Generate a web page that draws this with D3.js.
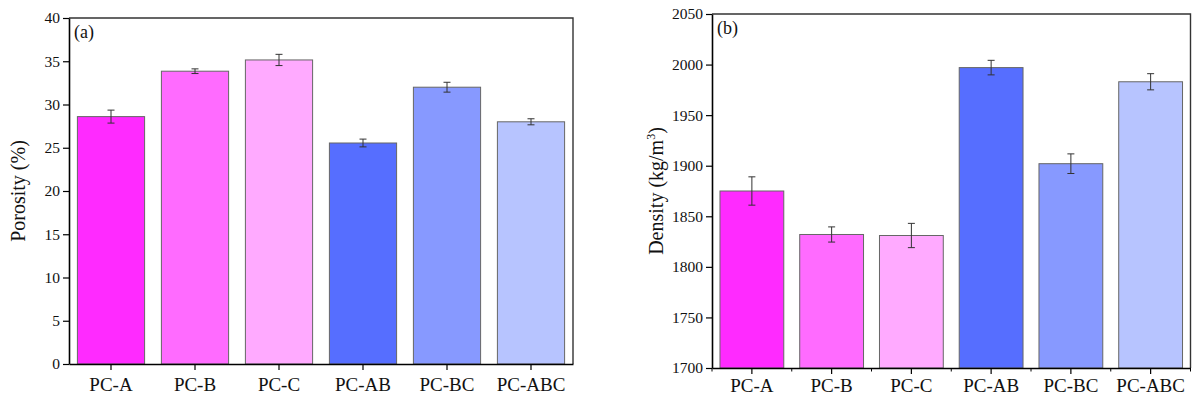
<!DOCTYPE html>
<html>
<head>
<meta charset="utf-8">
<script src="https://cdn.jsdelivr.net/npm/d3@7"></script>
<style>
  body { margin: 0; background: #fff; }
  svg { display: block; }
  svg text { font-family: "Liberation Serif", "Times New Roman", serif !important; }
</style>
</head>
<body>
<svg id="chart" width="1192" height="398"></svg>
<script>
// categories and colours
const categories = ["PC-A", "PC-B", "PC-C", "PC-AB", "PC-BC", "PC-ABC"];
const barColors = ["#FF2AFF", "#FF6BFF", "#FFAAFF", "#566EFF", "#8799FF", "#B7C4FF"];

// (a) porosity
const porosity = [28.6, 33.85, 35.15, 25.55, 32.0, 28.0];
const porosityErr = [0.75, 0.27, 0.65, 0.45, 0.57, 0.35];
const porosityTicks = [0, 5, 10, 15, 20, 25, 30, 35, 40];

// (b) density
const density = [1875, 1832, 1831, 1997, 1902, 1983];
const densityErr = [14, 7.5, 12, 7.2, 9.7, 8];
const densityTicks = [1700, 1750, 1800, 1850, 1900, 1950, 2000, 2050];

let svg = d3.select("#chart");

//Draws one bar panel with error bars
function drawPanel(opt) {
    let g = svg.append("g");
    let x = d3.scaleBand()
        .domain(categories)
        .range([opt.left, opt.right])
        .paddingInner(0.2)
        .paddingOuter(0.1);
    let y = d3.scaleLinear()
        .domain(opt.domain)
        .range([opt.bottom, opt.top]);

    let rows = categories.map((c, i) => ({ c: c, v: opt.values[i], e: opt.errors[i], col: barColors[i] }));

    //bars
    g.selectAll("rect.bar")
        .data(rows)
        .join("rect")
        .attr("class", "bar")
        .attr("x", d => x(d.c))
        .attr("width", x.bandwidth())
        .attr("y", d => y(d.v))
        .attr("height", d => y(opt.domain[0]) - y(d.v))
        .attr("fill", d => d.col)
        .attr("stroke", "#666")
        .attr("stroke-width", 1);

    //error bars
    let cap = 3.5;
    let eb = g.selectAll("g.err")
        .data(rows)
        .join("g")
        .attr("class", "err")
        .attr("stroke", "#333")
        .attr("stroke-width", 1);
    eb.append("line")
        .attr("x1", d => x(d.c) + x.bandwidth() / 2)
        .attr("x2", d => x(d.c) + x.bandwidth() / 2)
        .attr("y1", d => y(d.v + d.e))
        .attr("y2", d => y(d.v - d.e));
    eb.append("line")
        .attr("x1", d => x(d.c) + x.bandwidth() / 2 - cap)
        .attr("x2", d => x(d.c) + x.bandwidth() / 2 + cap)
        .attr("y1", d => y(d.v + d.e))
        .attr("y2", d => y(d.v + d.e));
    eb.append("line")
        .attr("x1", d => x(d.c) + x.bandwidth() / 2 - cap)
        .attr("x2", d => x(d.c) + x.bandwidth() / 2 + cap)
        .attr("y1", d => y(d.v - d.e))
        .attr("y2", d => y(d.v - d.e));

    //frame (top and right)
    g.append("path")
        .attr("d", `M${opt.left},${opt.top}H${opt.right}V${opt.bottom}`)
        .attr("fill", "none")
        .attr("stroke", "#333")
        .attr("stroke-width", 1.4);

    //y axis
    let yAxis = g.append("g")
        .attr("transform", `translate(${opt.left},0)`)
        .call(d3.axisLeft(y).tickValues(opt.ticks).tickFormat(d3.format("d"))
            .tickSize(6).tickPadding(3).tickSizeOuter(0));
    yAxis.select(".domain").attr("stroke", "#000").attr("stroke-width", 1.6);
    yAxis.selectAll(".tick line").attr("stroke-width", 1.2);
    yAxis.selectAll("text")
        .attr("font-size", 15.5)
        .attr("fill", "#111");

    //x axis
    let xAxis = g.append("g")
        .attr("transform", `translate(0,${opt.bottom})`)
        .call(d3.axisBottom(x).tickSize(6).tickPadding(opt.labelPad).tickSizeOuter(0));
    xAxis.select(".domain").attr("stroke", "#000").attr("stroke-width", 1.6);
    xAxis.selectAll(".tick line").attr("stroke-width", 1.2);
    xAxis.selectAll("text")
        .attr("font-size", 19)
        .attr("fill", "#111");

    //minor ticks at band edges
    if (opt.minor) {
        let edges = d3.range(categories.length + 1).map(i => opt.left + i * (opt.right - opt.left) / categories.length);
        g.selectAll("line.minor")
            .data(edges)
            .join("line")
            .attr("class", "minor")
            .attr("x1", d => d).attr("x2", d => d)
            .attr("y1", opt.bottom).attr("y2", opt.bottom + 3.5)
            .attr("stroke", "#000")
            .attr("stroke-width", 1);
    }

    //panel label
    g.append("text")
        .attr("x", opt.left + 5)
        .attr("y", opt.top + 20)
        .attr("font-size", 18)
        .attr("fill", "#111")
        .text(opt.label);

    //y title
    let t = g.append("text")
        .attr("transform", `translate(${opt.titleX},${(opt.top + opt.bottom) / 2}) rotate(-90)`)
        .attr("text-anchor", "middle")
        .attr("font-size", 20)
        .attr("fill", "#111");
    opt.title(t);
}

drawPanel({
    left: 69, right: 573, top: 18, bottom: 364,
    domain: [0, 40], ticks: porosityTicks,
    values: porosity, errors: porosityErr,
    label: "(a)", titleX: 25, minor: false, labelPad: 8,
    title: t => t.text("Porosity (%)")
});

drawPanel({
    left: 712, right: 1190.5, top: 14, bottom: 368,
    domain: [1700, 2050], ticks: densityTicks,
    values: density, errors: densityErr,
    label: "(b)", titleX: 663, minor: true, labelPad: 5,
    title: t => {
        t.append("tspan").text("Density (kg/m");
        t.append("tspan").attr("font-size", 12).attr("dy", -8).text("3");
        t.append("tspan").attr("dy", 8).text(")");
    }
});
</script>
</body>
</html>
